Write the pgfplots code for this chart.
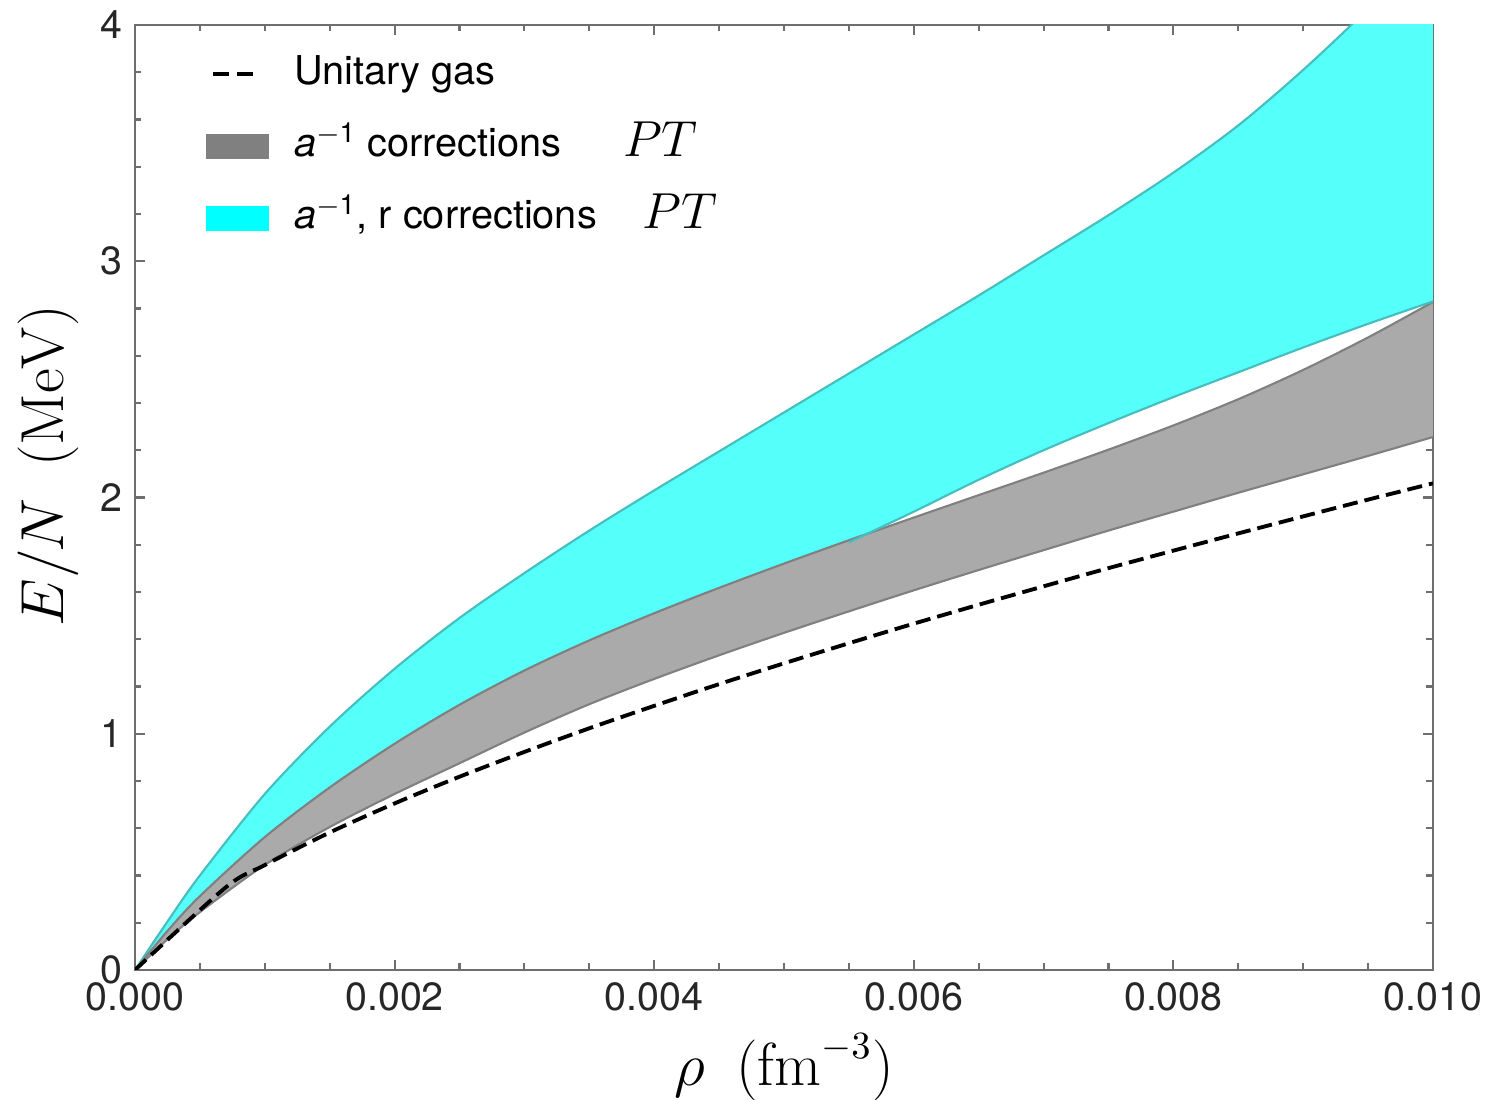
\documentclass[border=0pt]{standalone}
\usepackage{pgfplots}
\pgfplotsset{compat=1.18}
\usepackage{pgfplotstable}
\usepackage[no-math]{fontspec}
\setmainfont{TeX Gyre Heros}
\definecolor{bandcyan}{RGB}{85,255,250}
\definecolor{edgecyan}{RGB}{70,190,190}
\definecolor{bandgray}{RGB}{170,170,170}
\definecolor{edgegray}{RGB}{128,128,128}
\definecolor{swgray}{RGB}{128,128,128}
\definecolor{swcyan}{RGB}{0,255,255}
\definecolor{axgray}{RGB}{110,110,110}

% cu: upper edge of cyan band, gu/gl: edges of gray band
\pgfplotstableread{
rho     cu     gu      gl
0       0      0       0
0.00025 0.205  0.165   0.13
0.0005  0.40   0.3125  0.245
0.001   0.745  0.5625  0.445
0.0015  1.03   0.7725  0.605
0.002   1.275  0.9575  0.745
0.0025  1.49   1.1225  0.875
0.003   1.68   1.2675  1.005
0.0035  1.86   1.395   1.125
0.004   2.03   1.51    1.232
0.0045  2.195  1.6175  1.332
0.005   2.36   1.72    1.427
0.0055  2.525  1.819   1.518
0.006   2.69   1.915   1.607
0.0065  2.855  2.01    1.693
0.007   3.025  2.105   1.777
0.0075  3.195  2.2025  1.86
0.008   3.375  2.305   1.94
0.0085  3.575  2.416   2.02
0.009   3.81   2.54    2.098
0.0095  4.07   2.6775  2.176
0.01    4.36   2.8275  2.256
}\bands

\pgfplotstableread{
rho    ug
0      0
0.0007 0.350
0.001  0.444
0.0015 0.582
0.002  0.705
0.0025 0.818
0.003  0.923
0.0035 1.023
0.004  1.118
0.0045 1.210
0.005  1.298
0.0055 1.383
0.006  1.466
0.0065 1.546
0.007  1.624
0.0075 1.701
0.008  1.775
0.0085 1.848
0.009  1.920
0.0095 1.991
0.01   2.06
}\unitary

\begin{document}
\begin{tikzpicture}
\useasboundingbox (0,0) rectangle (14.88cm,11cm);
\begin{axis}[
  at={(1.35cm,1.30cm)}, anchor=south west,
  scale only axis, width=12.98cm, height=9.45cm,
  xmin=0, xmax=0.01, ymin=0, ymax=4,
  xtick={0,0.002,0.004,0.006,0.008,0.01},
  xticklabels={0.000,0.002,0.004,0.006,0.008,0.010},
  minor x tick num=3,
  ytick={0,1,2,3,4}, minor y tick num=4,
  scaled x ticks=false,
  major tick length=0.1cm, minor tick length=0.065cm,
  axis line style={axgray, line width=0.6pt},
  every tick/.style={axgray, line width=0.6pt},
  tick label style={font=\fontsize{11.2}{13}\selectfont, text=black!85},
  /pgf/number format/assume math mode=true,
  xlabel={$\rho\ \ (\mathrm{fm}^{-3})$},
  ylabel={$E/N\ \ (\mathrm{MeV})$},
  label style={font=\fontsize{16}{18}\selectfont},
  xlabel style={at={(axis description cs:0.5,-0.103)}, anchor=center},
  ylabel style={at={(axis description cs:-0.067,0.534)}, anchor=center},
  legend cell align=left,
  legend style={draw=none, fill=none, at={(axis description cs:0.054,0.976)}, anchor=north west,
    font=\fontsize{11.3}{13}\selectfont, inner sep=0pt,
    nodes={inner sep=0pt, text height=0.36cm, text depth=0.36cm},
    column sep=0.25cm},
]
\addlegendimage{legend image code/.code={\draw[black, line width=1.1pt, dash pattern=on 4.5pt off 2.2pt] (0.07cm,0.1cm) -- (0.53cm,0.1cm);}}
\addlegendentry{Unitary gas}
\addlegendimage{legend image code/.code={\fill[swgray] (0cm,-0.02cm) rectangle (0.62cm,0.22cm);}}
\addlegendentry{\textit{a}\textsuperscript{$-$1} corrections\hspace{17.5pt}{\fontsize{13.5}{14}\selectfont$PT$}}
\addlegendimage{legend image code/.code={\fill[swcyan] (0cm,-0.02cm) rectangle (0.62cm,0.22cm);}}
\addlegendentry{\textit{a}\textsuperscript{$-$1}, r corrections\hspace{13pt}{\fontsize{13.5}{14}\selectfont$PT$}}

% cyan band: upper edge, then lower edge back to the origin
\addplot[fill=bandcyan, draw=none, forget plot] coordinates {
(0,0)(0.00025,0.205)(0.0005,0.40)(0.001,0.745)(0.0015,1.03)(0.002,1.275)(0.0025,1.49)(0.003,1.68)(0.0035,1.86)(0.004,2.03)(0.0045,2.195)(0.005,2.36)(0.0055,2.525)(0.006,2.69)(0.0065,2.855)(0.007,3.025)(0.0075,3.195)(0.008,3.375)(0.0085,3.575)(0.009,3.81)(0.0095,4.07)(0.01,4.36)
(0.01,2.83)(0.0095,2.735)(0.009,2.635)(0.0085,2.53)(0.008,2.425)(0.0075,2.315)(0.007,2.2)(0.0065,2.075)(0.006,1.94)(0.0055,1.81)(0.005,1.69)(0.0045,1.56)(0.004,1.43)(0.0035,1.29)(0.003,1.14)(0.0025,0.98)(0.002,0.81)(0.0015,0.63)(0.001,0.455)(0.0005,0.25)(0.00025,0.135)
} -- cycle;
\addplot[draw=edgecyan, line width=0.6pt, smooth, forget plot] table[x=rho,y=cu]{\bands};
% gray band
\addplot[fill=bandgray, draw=none, forget plot] coordinates {
(0,0)(0.00025,0.165)(0.0005,0.3125)(0.001,0.5625)(0.0015,0.7725)(0.002,0.9575)(0.0025,1.1225)(0.003,1.2675)(0.0035,1.395)(0.004,1.51)(0.0045,1.6175)(0.005,1.72)(0.0055,1.819)(0.006,1.915)(0.0065,2.01)(0.007,2.105)(0.0075,2.2025)(0.008,2.305)(0.0085,2.416)(0.009,2.54)(0.0095,2.6775)(0.01,2.8275)
(0.01,2.256)(0.0095,2.176)(0.009,2.098)(0.0085,2.02)(0.008,1.94)(0.0075,1.86)(0.007,1.777)(0.0065,1.693)(0.006,1.607)(0.0055,1.518)(0.005,1.427)(0.0045,1.332)(0.004,1.232)(0.0035,1.125)(0.003,1.005)(0.0025,0.875)(0.002,0.745)(0.0015,0.605)(0.001,0.445)(0.0005,0.245)(0.00025,0.13)
} -- cycle;
\addplot[draw=edgegray, line width=0.6pt, smooth, forget plot] table[x=rho,y=gu]{\bands};
\addplot[draw=edgegray, line width=0.6pt, smooth, forget plot] table[x=rho,y=gl]{\bands};
% visible part of the lower edge of the cyan band
\addplot[draw=edgecyan, line width=0.6pt, smooth, forget plot] coordinates {
(0.0055,1.81)(0.006,1.94)(0.0065,2.075)(0.007,2.2)(0.0075,2.315)(0.008,2.425)(0.0085,2.53)(0.009,2.635)(0.0095,2.735)(0.01,2.83)};
\addplot[black, line width=1.1pt, dash pattern=on 4.3pt off 2pt, smooth, forget plot] table[x=rho,y=ug]{\unitary};
\end{axis}
\end{tikzpicture}
\end{document}
